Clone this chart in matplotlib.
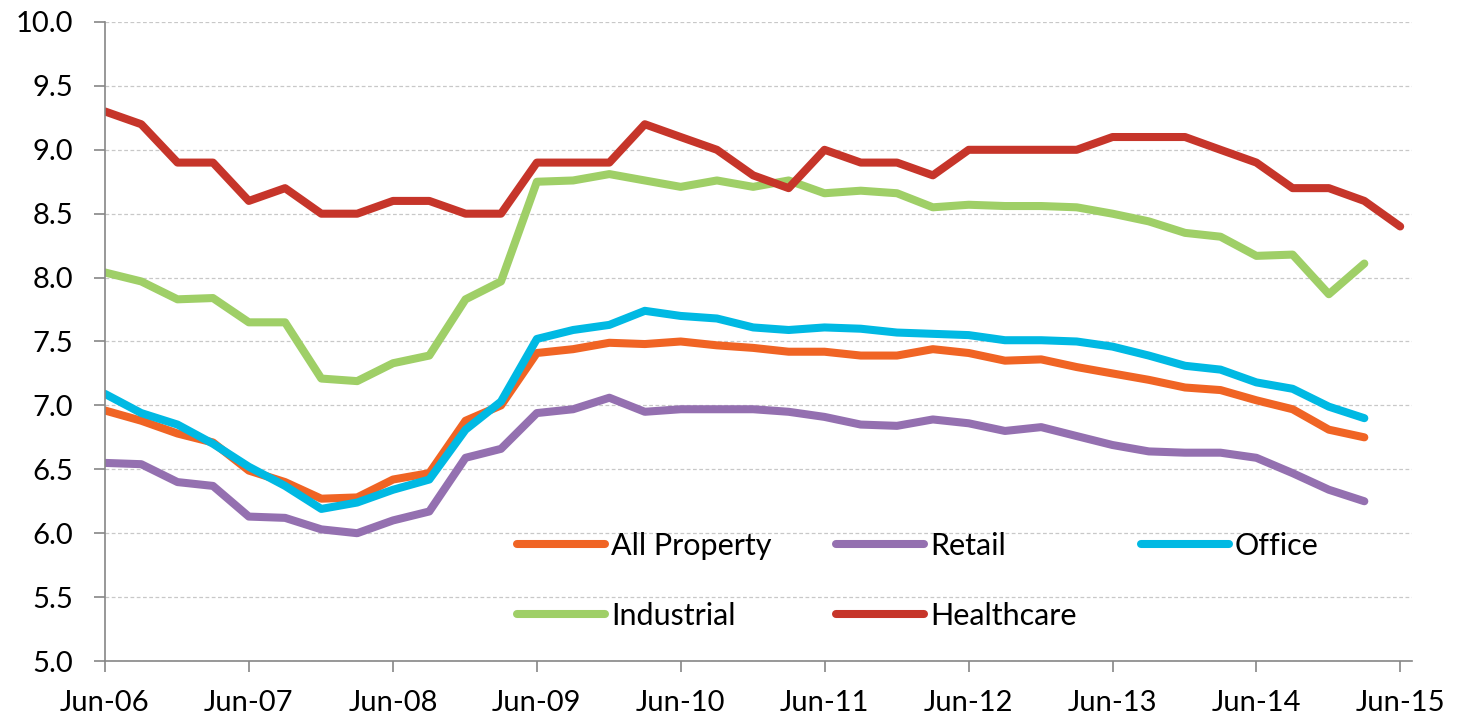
import numpy as np
import pandas as pd
import matplotlib
matplotlib.use('Agg')
import matplotlib.pyplot as plt
import matplotlib.dates as mdates

# quarterly yields, Jun-06 .. Mar-15 (healthcare runs to Jun-15)
quarters = pd.date_range('2006-06-30', '2015-06-30', freq='QE')

all_property = [6.96, 6.88, 6.78, 6.71, 6.49, 6.40, 6.27, 6.28, 6.42, 6.47, 6.88, 7.00,
                7.41, 7.44, 7.49, 7.48, 7.50, 7.47, 7.45, 7.42, 7.42, 7.39, 7.39, 7.44,
                7.41, 7.35, 7.36, 7.30, 7.25, 7.20, 7.14, 7.12, 7.04, 6.97, 6.81, 6.75]
retail = [6.55, 6.54, 6.40, 6.37, 6.13, 6.12, 6.03, 6.00, 6.10, 6.17, 6.59, 6.66,
          6.94, 6.97, 7.06, 6.95, 6.97, 6.97, 6.97, 6.95, 6.91, 6.85, 6.84, 6.89,
          6.86, 6.80, 6.83, 6.76, 6.69, 6.64, 6.63, 6.63, 6.59, 6.47, 6.34, 6.25]
office = [7.09, 6.94, 6.85, 6.70, 6.52, 6.37, 6.19, 6.24, 6.34, 6.42, 6.81, 7.03,
          7.52, 7.59, 7.63, 7.74, 7.70, 7.68, 7.61, 7.59, 7.61, 7.60, 7.57, 7.56,
          7.55, 7.51, 7.51, 7.50, 7.46, 7.39, 7.31, 7.28, 7.18, 7.13, 6.99, 6.90]
industrial = [8.04, 7.97, 7.83, 7.84, 7.65, 7.65, 7.21, 7.19, 7.33, 7.39, 7.83, 7.97,
              8.75, 8.76, 8.81, 8.76, 8.71, 8.76, 8.71, 8.76, 8.66, 8.68, 8.66, 8.55,
              8.57, 8.56, 8.56, 8.55, 8.50, 8.44, 8.35, 8.32, 8.17, 8.18, 7.87, 8.11]
healthcare = [9.3, 9.2, 8.9, 8.9, 8.6, 8.7, 8.5, 8.5, 8.6, 8.6, 8.5, 8.5,
              8.9, 8.9, 8.9, 9.2, 9.1, 9.0, 8.8, 8.7, 9.0, 8.9, 8.9, 8.8,
              9.0, 9.0, 9.0, 9.0, 9.1, 9.1, 9.1, 9.0, 8.9, 8.7, 8.7, 8.6, 8.4]

series = [
	('All Property', all_property, '#F06424'),
	('Retail', retail, '#9470B0'),
	('Office', office, '#00B9E3'),
	('Industrial', industrial, '#9FCF67'),
	('Healthcare', healthcare, '#C6352A'),
]

plt.rcParams['font.family'] = ['Lato', 'DejaVu Sans']

fig = plt.figure(figsize=(14.62, 7.2), dpi=100)
ax = fig.add_axes([105 / 1462, 1 - 661 / 720, (1412 - 105) / 1462, (661 - 22) / 720])

lines = {}
for name, vals, col in series:
	lines[name], = ax.plot(quarters[:len(vals)], vals, color=col, lw=5.8, label=name,
						   solid_capstyle='round', solid_joinstyle='round')

ax.set_ylim(5.0, 10.0)
ax.set_yticks(np.arange(5.0, 10.01, 0.5))
ax.yaxis.set_major_formatter(matplotlib.ticker.FormatStrFormatter('%.1f'))
ax.set_xlim(quarters[0], quarters[-1] + pd.Timedelta(days=30))
ax.set_xticks(quarters[::4])
ax.xaxis.set_major_formatter(mdates.DateFormatter('%b-%y'))

ax.yaxis.grid(True, linestyle=(0, (3, 2)), color='#C8C8C8', linewidth=0.9)
ax.set_axisbelow(True)
for s in ['top', 'right']:
	ax.spines[s].set_visible(False)
for s in ['left', 'bottom']:
	ax.spines[s].set_color('#868686')
	ax.spines[s].set_linewidth(1.2)

ax.tick_params(axis='both', colors='#868686', labelcolor='black', labelsize=21,
			   length=8, width=1.2, direction='out')
ax.tick_params(axis='y', pad=15)
ax.tick_params(axis='x', pad=13)

# legend fills column by column, so order entries to read row-wise
order = ['All Property', 'Industrial', 'Retail', 'Healthcare', 'Office']
leg = ax.legend([lines[n] for n in order], order, ncol=3, loc='upper left',
				bbox_to_anchor=(517 / 1462, 1 - 532 / 720),
				bbox_transform=fig.transFigure, frameon=False, fontsize=22,
				handlelength=2.88, handletextpad=0.2, columnspacing=2.1,
				labelspacing=1.36, borderpad=0, borderaxespad=0)

fig.savefig('out.png', dpi=100)
